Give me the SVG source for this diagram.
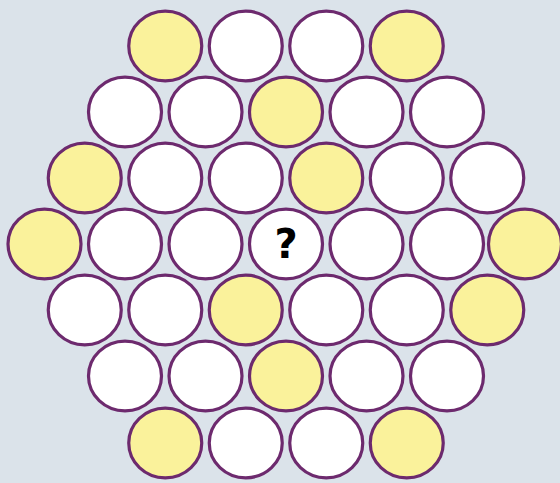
<svg xmlns="http://www.w3.org/2000/svg" width="560" height="483" viewBox="0 0 560 483">
<style>
.c{stroke:#6d2a6e;stroke-width:3.2}
.w{fill:#ffffff}
.y{fill:#faf29b}
.q{font-family:"DejaVu Sans",sans-serif;font-weight:bold;font-size:40px;fill:#000;text-anchor:middle}
</style>
<rect width="560" height="483" fill="#dbe3ea"/>
<g id="row1">
<ellipse id="n1_1" class="c y" cx="165.25" cy="46" rx="36.5" ry="34.8"/>
<ellipse id="n1_2" class="c w" cx="245.75" cy="46" rx="36.5" ry="34.8"/>
<ellipse id="n1_3" class="c w" cx="326.25" cy="46" rx="36.5" ry="34.8"/>
<ellipse id="n1_4" class="c y" cx="406.75" cy="46" rx="36.5" ry="34.8"/>
</g>
<g id="row2">
<ellipse id="n2_1" class="c w" cx="125" cy="112" rx="36.5" ry="34.8"/>
<ellipse id="n2_2" class="c w" cx="205.5" cy="112" rx="36.5" ry="34.8"/>
<ellipse id="n2_3" class="c y" cx="286" cy="112" rx="36.5" ry="34.8"/>
<ellipse id="n2_4" class="c w" cx="366.5" cy="112" rx="36.5" ry="34.8"/>
<ellipse id="n2_5" class="c w" cx="447" cy="112" rx="36.5" ry="34.8"/>
</g>
<g id="row3">
<ellipse id="n3_1" class="c y" cx="84.75" cy="178" rx="36.5" ry="34.8"/>
<ellipse id="n3_2" class="c w" cx="165.25" cy="178" rx="36.5" ry="34.8"/>
<ellipse id="n3_3" class="c w" cx="245.75" cy="178" rx="36.5" ry="34.8"/>
<ellipse id="n3_4" class="c y" cx="326.25" cy="178" rx="36.5" ry="34.8"/>
<ellipse id="n3_5" class="c w" cx="406.75" cy="178" rx="36.5" ry="34.8"/>
<ellipse id="n3_6" class="c w" cx="487.25" cy="178" rx="36.5" ry="34.8"/>
</g>
<g id="row4">
<ellipse id="n4_1" class="c y" cx="44.5" cy="244" rx="36.5" ry="34.8"/>
<ellipse id="n4_2" class="c w" cx="125" cy="244" rx="36.5" ry="34.8"/>
<ellipse id="n4_3" class="c w" cx="205.5" cy="244" rx="36.5" ry="34.8"/>
<g id="n4_4">
<ellipse class="c w" cx="286" cy="244" rx="36.5" ry="34.8"/>
<text class="q" x="286" y="258">?</text>
</g>
<ellipse id="n4_5" class="c w" cx="366.5" cy="244" rx="36.5" ry="34.8"/>
<ellipse id="n4_6" class="c w" cx="447" cy="244" rx="36.5" ry="34.8"/>
<ellipse id="n4_7" class="c y" cx="525" cy="244" rx="36.5" ry="34.8"/>
</g>
<g id="row5">
<ellipse id="n5_1" class="c w" cx="84.75" cy="310" rx="36.5" ry="34.8"/>
<ellipse id="n5_2" class="c w" cx="165.25" cy="310" rx="36.5" ry="34.8"/>
<ellipse id="n5_3" class="c y" cx="245.75" cy="310" rx="36.5" ry="34.8"/>
<ellipse id="n5_4" class="c w" cx="326.25" cy="310" rx="36.5" ry="34.8"/>
<ellipse id="n5_5" class="c w" cx="406.75" cy="310" rx="36.5" ry="34.8"/>
<ellipse id="n5_6" class="c y" cx="487.25" cy="310" rx="36.5" ry="34.8"/>
</g>
<g id="row6">
<ellipse id="n6_1" class="c w" cx="125" cy="376" rx="36.5" ry="34.8"/>
<ellipse id="n6_2" class="c w" cx="205.5" cy="376" rx="36.5" ry="34.8"/>
<ellipse id="n6_3" class="c y" cx="286" cy="376" rx="36.5" ry="34.8"/>
<ellipse id="n6_4" class="c w" cx="366.5" cy="376" rx="36.5" ry="34.8"/>
<ellipse id="n6_5" class="c w" cx="447" cy="376" rx="36.5" ry="34.8"/>
</g>
<g id="row7">
<ellipse id="n7_1" class="c y" cx="165.25" cy="443" rx="36.5" ry="34.8"/>
<ellipse id="n7_2" class="c w" cx="245.75" cy="443" rx="36.5" ry="34.8"/>
<ellipse id="n7_3" class="c w" cx="326.25" cy="443" rx="36.5" ry="34.8"/>
<ellipse id="n7_4" class="c y" cx="406.75" cy="443" rx="36.5" ry="34.8"/>
</g>
<g id="connectors"/>
</svg>
